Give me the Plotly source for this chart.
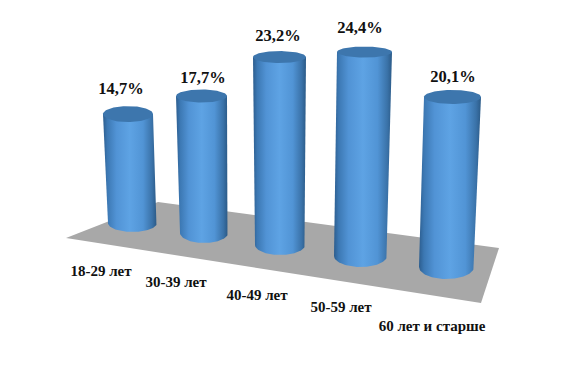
import numpy as np
import plotly.graph_objects as go

# data
categories = ["18-29 лет", "30-39 лет", "40-49 лет", "50-59 лет", "60 лет и старше"]
values = [14.7, 17.7, 23.2, 24.4, 20.1]

# perspective layout of the pseudo-3D scene (not data)
base_x = [132.5, 204.0, 280.0, 360.5, 446.5]
base_y = [223.0, 233.0, 245.0, 256.0, 267.0]
depth_scale = [7.41, 7.74, 8.10, 8.36, 8.46]   # px per percent at each bar's depth
lean = [-4.5, -2.5, -0.5, 4.0, 6.0]            # horizontal shift of the top
rx_top = [25.0, 25.5, 26.5, 27.5, 28.5]
ry_top = [8.0, 6.5, 6.0, 5.5, 7.0]
rx_bot = [24.5, 24.0, 25.0, 26.5, 27.5]
ry_bot = [9.0, 10.0, 10.0, 11.0, 12.0]
label_gap = [24, 17, 20, 23, 19]
label_dx = [-7, 1.5, -1.5, -4.5, 0.5]
cat_x = [101, 176, 257, 341, 432]
cat_y = [272, 283, 296, 308, 327]
floor_x = [66, 158, 499, 481, 66]
floor_y = [238, 202, 248, 303, 238]

BODY = [[0.0, "#2c5d8e"], [0.08, "#3c78b3"], [0.25, "#5193d5"], [0.50, "#5ea3e4"],
        [0.75, "#5194d5"], [0.92, "#3a72a8"], [1.0, "#2b5a87"]]
TOP = "#3d76ad"
FONT = "Liberation Serif"

fig = go.Figure()
fig.add_trace(go.Scatter(x=floor_x, y=floor_y, mode="lines", fill="toself",
                         fillcolor="#a8a8a8", line=dict(width=0), hoverinfo="skip"))

t_top = []
for i, v in enumerate(values):
    tx = base_x[i] + lean[i]
    ty = base_y[i] - v * depth_scale[i]
    t_top.append((tx, ty))
    a = np.linspace(0, np.pi, 60)
    bx = base_x[i] + rx_bot[i] * np.cos(a)
    by = base_y[i] + ry_bot[i] * np.sin(a)
    px = np.concatenate([[tx + rx_top[i]], bx, [tx - rx_top[i]], [tx + rx_top[i]]])
    py = np.concatenate([[ty], by, [ty], [ty]])
    fig.add_trace(go.Scatter(x=px, y=py, mode="lines", fill="toself", line=dict(width=0),
                             fillgradient=dict(type="horizontal", colorscale=BODY),
                             hoverinfo="skip"))
    a2 = np.linspace(0, 2 * np.pi, 90)
    fig.add_trace(go.Scatter(x=tx + rx_top[i] * np.cos(a2), y=ty + ry_top[i] * np.sin(a2),
                             mode="lines", fill="toself", fillcolor=TOP, line=dict(width=0),
                             hoverinfo="skip"))

fig.add_trace(go.Scatter(
    x=[t[0] + d for t, d in zip(t_top, label_dx)],
    y=[t[1] - g for t, g in zip(t_top, label_gap)],
    mode="text", text=[f"{v:.1f}%".replace(".", ",") for v in values],
    textposition="middle center",
    textfont=dict(family=FONT, size=16.5, color="#111111", weight="bold"), hoverinfo="skip"))
fig.add_trace(go.Scatter(
    x=cat_x, y=cat_y, mode="text", text=categories, textposition="middle center",
    textfont=dict(family=FONT, size=15, color="#111111", weight="bold"), hoverinfo="skip"))

# The page body has an 8px default margin: the axis ranges compensate for it.
fig.update_layout(width=572, height=369, margin=dict(l=0, r=0, t=0, b=0),
                  showlegend=False, paper_bgcolor="white", plot_bgcolor="white",
                  xaxis=dict(range=[8, 580], visible=False),
                  yaxis=dict(range=[377, 8], visible=False))
fig.write_html("out.html")
